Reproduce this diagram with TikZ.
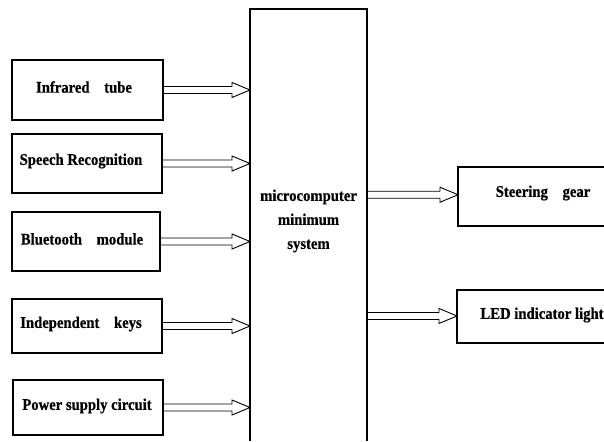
\documentclass[tikz,border=0pt]{standalone}
\usepackage{fontspec}
\setmainfont{Liberation Serif}[FakeStretch=0.9, BoldFeatures={FakeBold=0.6}]
\usetikzlibrary{calc}
\begin{document}
\begin{tikzpicture}[x=1pt,y=-1pt,
  box/.style={draw, line width=1.3pt, inner sep=0pt},
  lbl/.style={font=\fontsize{16.3}{24}\selectfont\bfseries, align=center},
  hollow/.style={draw, line width=0.9pt, line join=miter}]
\useasboundingbox (0,0) rectangle (604,441);

% input blocks
\node[box, minimum width=151pt, minimum height=60pt] (ir) at (87.5,90) {};
\node[box, minimum width=150pt, minimum height=59pt] (sr) at (87,163.5) {};
\node[box, minimum width=148pt, minimum height=59pt] (bt) at (86,241.5) {};
\node[box, minimum width=150pt, minimum height=54pt] (ik) at (87,326) {};
\node[box, minimum width=150pt, minimum height=55pt] (ps) at (88,407.5) {};

\node[lbl] at (84,87) {Infrared\hspace{0.9em}tube};
\node[lbl] at (81,161) {Speech Recognition};
\node[lbl] at (82,239) {Bluetooth\hspace{0.9em}module};
\node[lbl] at (81,324) {Independent\hspace{0.9em}keys};
\node[lbl] at (87,406) {Power supply circuit};

% controller block, open at the bottom
\coordinate (mcuNW) at (250,9);
\coordinate (mcuNE) at (367,9);
\coordinate (mcuSW) at (250,441);
\coordinate (mcuSE) at (367,441);
\draw[line width=1.3pt] (mcuSW) -- (mcuNW) -- (mcuNE) -- (mcuSE);
\node[lbl] (mcu) at (308.5,221) {microcomputer\\minimum\\system};

% output blocks, open on the right
\coordinate (sgW) at (458,167);
\coordinate (sgS) at (458,226);
\draw[line width=1.3pt] (610,167) -- (sgW) -- (sgS) -- (610,226);
\coordinate (ledW) at (457,290);
\coordinate (ledS) at (457,343);
\draw[line width=1.3pt] (610,290) -- (ledW) -- (ledS) -- (610,343);
\node[lbl] at (543,193) {Steering\hspace{0.9em}gear};
\node[lbl] at (542,315) {LED indicator light};

% hollow double-line arrows
\newcommand{\hollowarrow}[2]{%
  \draw[hollow] let \p1=#1, \p2=#2 in
    (\x1,\y1-3.5pt) -- (\x2-18pt,\y1-3.5pt) -- (\x2-18pt,\y1-7.5pt)
    -- (\x2,\y1) -- (\x2-18pt,\y1+7.5pt) -- (\x2-18pt,\y1+3.5pt)
    -- (\x1,\y1+3.5pt);}
\hollowarrow{(ir.east)}{(mcuNW |- ir.east)}
\hollowarrow{(sr.east)}{(mcuNW |- sr.east)}
\hollowarrow{(bt.east)}{(mcuNW |- bt.east)}
\hollowarrow{(ik.east)}{(mcuNW |- ik.east)}
\hollowarrow{(ps.east)}{(mcuNW |- ps.east)}
\coordinate (sgIn) at ($(sgW)!0.47!(sgS)$);
\coordinate (ledIn) at ($(ledW)!0.49!(ledS)$);
\hollowarrow{(mcuNE |- sgIn)}{(sgIn)}
\hollowarrow{(mcuNE |- ledIn)}{(ledIn)}
\end{tikzpicture}
\end{document}
